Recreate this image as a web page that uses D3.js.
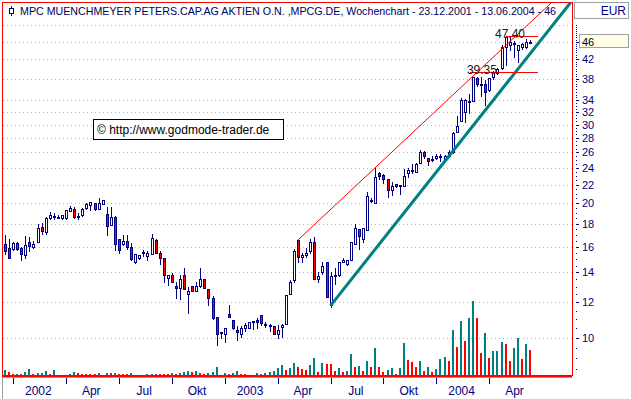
<!DOCTYPE html>
<html>
<head>
<meta charset="utf-8">
<script src="https://cdn.jsdelivr.net/npm/d3@7"></script>
<style>
body { margin: 0; background: #fff; }
svg { display: block; font-family: "Liberation Sans", Arial, sans-serif; }
</style>
</head>
<body>
<svg id="chart" width="631" height="399"></svg>
<script>
// weekly candles, 23.12.2001 - 13.06.2004 (index = week number)
var opens = [16.2,15.9,15.8,16.3,15.9,15.3,16.4,16.0,16.4,17.7, 17.2,18.5,18.6,18.55,18.5,18.5,19.25,19.4,18.65,18.8,
  19.5,19.8,20.0,19.45,19.95,18.9,17.9,18.6,16.6,16.2, 16.5,16.0,14.8,15.05,15.45,15.2,15.4,16.55,15.5,15.1,
  13.6,13.85,13.05,12.9,13.8,12.5,13.05,12.75,13.05,13.55, 12.85,12.25,11.1,10.3,10.2,11.3,10.95,10.4,10.2,10.5,
  10.5,10.85,10.95,11.25,10.73,10.7,10.6,10.2,10.55,10.72, 12.55,13.45,16.55,15.15,15.3,15.65,16.35,13.5,14.0,14.8,
  11.85,13.8,13.85,14.75,14.6,14.9,16.2,17.55,16.65,17.4, 20.35,20.0,23.35,23.15,22.6,21.4,22.1,21.9,21.85,23.35,
  23.6,23.55,24.55,26.0,25.2,25.1,25.3,25.4,25.05,25.5, 26.1,28.9,30.55,32.05,33.7,33.85,38.1,37.0,37.0,35.85,
  38.25,39.05,40.1,44.8,45.3,45.4,44.05,44.85,44.85,45.9];
var highs = [17.0,16.6,16.4,16.35,16.0,16.9,16.8,16.5,18.0,18.1, 18.6,19.1,19.0,18.8,18.85,19.3,19.7,19.6,19.0,19.5,
  20.0,20.1,20.05,20.5,20.3,19.6,19.6,18.7,16.6,17.0, 17.0,16.3,15.4,15.35,15.7,15.6,17.1,16.6,15.6,15.1,
  13.8,13.95,13.35,13.85,14.3,13.0,13.05,13.3,14.3,13.55, 12.85,12.4,11.1,10.3,10.5,11.84,10.95,10.6,10.6,10.8,
  10.85,10.9,11.05,11.25,10.87,10.75,10.6,10.68,10.72,12.45, 13.45,15.8,16.55,15.45,15.9,16.6,16.8,14.0,14.8,14.8,
  14.05,14.3,14.8,15.1,14.95,16.35,17.95,17.55,17.6,21.2, 20.5,24.05,23.45,23.25,22.6,22.35,22.1,21.95,23.9,23.95,
  24.5,24.6,26.3,26.2,25.3,25.5,25.8,25.8,25.65,26.25, 28.8,31.3,34.35,34.2,35.1,38.3,38.3,38.4,37.75,38.1,
  39.6,40.2,45.2,47.4,47.4,46.2,45.2,45.6,46.6,46.5];
var lows = [15.4,15.1,15.7,15.75,14.9,15.1,15.6,15.9,16.4,17.1, 17.1,18.4,18.4,18.5,18.4,18.4,19.2,18.5,18.4,18.7,
  19.45,19.3,19.35,19.45,19.95,17.0,17.9,15.7,15.5,16.1, 15.8,14.9,14.7,15.0,15.2,14.9,15.4,15.45,14.6,13.3,
  13.1,13.3,12.3,12.2,12.85,11.35,12.7,12.7,13.0,12.9, 11.85,11.0,9.63,10.0,9.8,11.1,10.45,9.9,10.05,10.35,
  10.5,10.45,10.5,10.68,10.58,10.35,10.2,9.96,10.05,10.72, 12.5,13.3,14.8,14.75,15.15,15.45,13.5,13.35,13.9,12.35,
  11.7,13.2,13.75,14.75,14.55,14.9,16.2,15.8,16.35,17.4, 20.1,20.0,22.7,22.2,20.6,20.85,21.7,20.95,21.85,22.9,
  23.35,23.55,24.55,25.3,24.3,24.8,25.1,24.9,25.0,25.4, 25.9,28.8,30.55,30.45,31.8,33.85,36.6,34.8,33.2,35.7,
  37.9,38.9,39.95,40.8,44.05,42.5,41.4,44.2,44.5,45.6];
var closes = [15.6,15.1,16.3,15.8,15.4,16.1,16.05,16.2,17.6,17.3, 18.5,18.8,18.75,18.6,18.8,19.3,19.55,18.6,18.75,19.4,
  19.9,20.1,19.4,20.0,20.3,17.8,18.6,16.2,15.7,16.5, 15.95,15.0,15.4,15.3,15.55,15.45,16.7,15.5,15.05,13.8,
  13.8,13.3,12.9,13.55,12.85,12.7,12.7,13.05,13.55,12.9, 12.25,11.05,10.2,10.28,10.5,11.1,10.5,10.28,10.5,10.65,
  10.85,10.9,10.85,10.8,10.7,10.6,10.2,10.4,10.65,12.45, 13.3,15.6,15.15,15.3,15.5,16.35,13.55,13.75,14.45,12.35,
  13.75,13.85,14.75,14.95,14.9,16.35,17.6,16.85,17.6,20.8, 20.25,22.95,23.0,22.7,21.4,21.85,21.85,21.95,23.0,23.75,
  23.75,24.5,26.0,25.5,24.8,25.15,25.5,25.45,25.55,26.05, 28.7,29.8,34.05,34.05,33.85,38.3,36.9,36.8,35.5,38.1,
  39.1,39.9,44.8,47.2,45.85,45.7,45.2,45.35,45.85,46.0];
// volume (relative units) and whether its bar is drawn as an up week
var volume = [5,3,1,1,1,3,6,1,2,2,4,1,5,0,0,0,1,3,2,1,1,1,1,2,0,2,2,2,1,1,1,2,0,0,0,
  1,1,1,1,1,1,2,1,2,3,4,3,4,2,1,2,3,8,0,2,1,2,4,1,1,0,0,2,1,2,3,4,7,
  10,5,7,12,8,6,5,10,17,3, 12,11,11,4,7,3,4,21,8,9, 4,14,8,27,8,3,5,7,1,7,
  32,15,13,8,14,4,8,3,6,16, 18,14,45,28,54,34,57,74,57,22, 42,17,24,24,33,31,14,27,37,16, 31,25];
var volUp = [1,0,0,1,0,1,1,0,1,1,1,0,1, 1,1,1, 1,1,0,0,0,0,0,1,1, 1,0,1,0,0,0,1, 1,1,1,
  1,1,0,0,0,0,1,0,1,1,1,0,1,0,0,1,1,1, 1,1,0,1,1,0,0, 1,1,1,0,1,1,1,1,
  1,0,1,1,0,0,0,1,1,0, 1,0,0,0,1,0,1,1,0,1, 0,1,0,1,0,0,1,1,0,1,
  1,0,0,0,1,0,1,0,1,1, 1,0,1,0,1,0,1,1,0,0, 1,0,1,1,1,0,0,1,1,0, 1,0];

// axis
var priceTicks = [10,12,14,16,18,20,22,24,26,28,30,32,34,38,42,46];
var gridPrices = [10,12,14,16,18,20,22,24,26,28,30,32,34,38,42,46,50];
var quarterWeeks = [2,15,28,41,54,67,80,93,106,119];
var quarterLabels = ["2002","Apr","Jul","Okt","2003","Apr","Jul","Okt","2004","Apr"];
var lastPrice = 46;

// trend lines [week, price] and horizontal marks
var upperTrend = [[72,16.55],[129,50.7]];
var lowerTrend = [[80,11.8],[129,43.2]];
var marks = [{price: 47.40, label: "47.40", from: 123, labelAt: 120.4, to: 131},
             {price: 39.35, label: "39.35", from: 114.3, labelAt: 113.5, to: 131}];

var title = "MPC MUENCHMEYER PETERS.CAP.AG AKTIEN O.N. ,MPCG.DE, Wochenchart - 23.12.2001 - 13.06.2004 - 46";
var copyright = "\u00A9 http://www.godmode-trader.de";

var navy = "#000080", red = "#ff0000", teal = "#008080";

var svg = d3.select("#chart");
var plot = {left: 2.5, top: 2.5, right: 572.5, bottom: 375.5};

var x = d3.scaleLinear().domain([0, 129]).range([5, 530]);
var y = d3.scaleLog().domain([10, 46]).range([337.7, 41.6]);
var yVol = d3.scaleLinear().domain([0, 74]).range([375, 301]);

var candles = opens.map(function(o, i) {
    return {i: i, o: o, h: highs[i], l: lows[i], c: closes[i], v: volume[i], up: volUp[i]};
});

svg.append("defs").append("clipPath").attr("id", "plotclip")
    .append("rect")
    .attr("x", plot.left).attr("y", plot.top)
    .attr("width", plot.right - plot.left).attr("height", plot.bottom - plot.top);

//gridlines
svg.append("g").selectAll("line")
    .data(gridPrices)
    .enter().append("line")
    .attr("x1", 3).attr("x2", 572)
    .attr("y1", function(d) { return Math.round(y(d)) + 0.5; })
    .attr("y2", function(d) { return Math.round(y(d)) + 0.5; })
    .attr("stroke", "#b8b8b8")
    .attr("stroke-dasharray", "1,3");

//volume
svg.append("g").attr("shape-rendering", "crispEdges")
    .selectAll("rect")
    .data(candles.filter(function(d) { return d.v > 0; }))
    .enter().append("rect")
    .attr("x", function(d) { return Math.round(x(d.i)) - 1; })
    .attr("width", 2)
    .attr("y", function(d) { return Math.round(yVol(d.v)); })
    .attr("height", function(d) { return 375 - Math.round(yVol(d.v)); })
    .attr("fill", function(d) { return d.up ? teal : red; });

//candles
var cg = svg.append("g").attr("shape-rendering", "crispEdges");
cg.selectAll("line")
    .data(candles)
    .enter().append("line")
    .attr("x1", function(d) { return Math.round(x(d.i)) + 0.5; })
    .attr("x2", function(d) { return Math.round(x(d.i)) + 0.5; })
    .attr("y1", function(d) { return Math.round(y(d.h)); })
    .attr("y2", function(d) { return Math.round(y(d.l)) + 1; })
    .attr("stroke", navy);
cg.selectAll("rect")
    .data(candles)
    .enter().append("rect")
    .attr("x", function(d) { return Math.round(x(d.i)) - 0.5; })
    .attr("width", 2)
    .attr("y", function(d) { return Math.round(y(Math.max(d.o, d.c))) + 0.5; })
    .attr("height", function(d) {
        return Math.max(1, Math.round(y(Math.min(d.o, d.c))) - Math.round(y(Math.max(d.o, d.c))));
    })
    .attr("fill", function(d) { return d.c >= d.o ? "#fff" : red; })
    .attr("stroke", navy);

//trend lines, extended to the top of the plot
function extend(pts) {
    var x0 = x(pts[0][0]), y0 = y(pts[0][1]), x1 = x(pts[1][0]), y1 = y(pts[1][1]);
    var k = (y1 - y0) / (x1 - x0);
    var xt = x0 + (plot.top - y0) / k;
    return [x0, y0, xt, plot.top];
}
var tg = svg.append("g").attr("clip-path", "url(#plotclip)");
[[upperTrend, red, 1], [lowerTrend, teal, 3]].forEach(function(t) {
    var p = extend(t[0]);
    tg.append("line")
        .attr("x1", p[0]).attr("y1", p[1]).attr("x2", p[2]).attr("y2", p[3])
        .attr("stroke", t[1]).attr("stroke-width", t[2]);
});

//horizontal marks
marks.forEach(function(m) {
    var yy = Math.round(y(m.price)) + 0.5;
    svg.append("line")
        .attr("x1", x(m.from)).attr("x2", x(m.to))
        .attr("y1", yy).attr("y2", yy)
        .attr("stroke", red).attr("shape-rendering", "crispEdges");
    svg.append("text")
        .attr("x", x(m.labelAt)).attr("y", yy + 1)
        .attr("font-size", 12).attr("fill", "#202020")
        .text(m.label);
});

//copyright box
svg.append("rect")
    .attr("x", 93.5).attr("y", 119.5).attr("width", 190).attr("height", 20)
    .attr("fill", "#fff").attr("stroke", "#000");
svg.append("text")
    .attr("x", 97).attr("y", 134)
    .attr("font-size", 12).attr("fill", "#000")
    .text(copyright);

//plot border
svg.append("rect")
    .attr("x", plot.left).attr("y", plot.top)
    .attr("width", plot.right - plot.left).attr("height", plot.bottom - plot.top)
    .attr("fill", "none").attr("stroke", red);

//title + icon
var icon = svg.append("g").attr("stroke", navy).attr("shape-rendering", "crispEdges");
icon.append("line").attr("x1", 11.5).attr("x2", 11.5).attr("y1", 6).attr("y2", 16);
icon.append("rect").attr("x", 9.5).attr("y", 8.5).attr("width", 4).attr("height", 5).attr("fill", "#fff");
svg.append("text")
    .attr("x", 20).attr("y", 15)
    .attr("font-size", 11.5).attr("fill", "#000060")
    .attr("textLength", 536).attr("lengthAdjust", "spacingAndGlyphs")
    .text(title);

//right axis
var ax = svg.append("g").attr("shape-rendering", "crispEdges");
ax.selectAll("line.minor")
    .data(d3.range(8.5, 50.01, 0.5))
    .enter().append("line")
    .attr("class", "minor")
    .attr("x1", 576).attr("x2", 577)
    .attr("y1", function(d) { return Math.round(y(d)) + 0.5; })
    .attr("y2", function(d) { return Math.round(y(d)) + 0.5; })
    .attr("stroke", navy);

ax.append("rect")
    .attr("x", 579.5).attr("y", Math.round(y(lastPrice)) - 7.5)
    .attr("width", 49).attr("height", 13)
    .attr("fill", "#ffffe6").attr("stroke", "#a0a0a0");

ax.selectAll("line.major")
    .data(priceTicks)
    .enter().append("line")
    .attr("class", "major")
    .attr("x1", 576).attr("x2", 579)
    .attr("y1", function(d) { return Math.round(y(d)) + 0.5; })
    .attr("y2", function(d) { return Math.round(y(d)) + 0.5; })
    .attr("stroke", navy);
ax.selectAll("text")
    .data(priceTicks)
    .enter().append("text")
    .attr("x", 582)
    .attr("y", function(d) { return y(d) + 4; })
    .attr("font-size", 11)
    .attr("fill", function(d) { return d === lastPrice ? "#000" : navy; })
    .text(function(d) { return d; });

svg.append("rect")
    .attr("x", 574.5).attr("y", 2.5).attr("width", 54).attr("height", 16)
    .attr("fill", "#fff").attr("stroke", "#a0a0a0");
svg.append("text")
    .attr("x", 626).attr("y", 15).attr("text-anchor", "end")
    .attr("font-size", 12).attr("fill", navy)
    .text("EUR");

//bottom axis
var bx = svg.append("g").attr("shape-rendering", "crispEdges");
bx.append("line").attr("x1", 3).attr("x2", 572).attr("y1", 377.5).attr("y2", 377.5).attr("stroke", "#a0a0a0");
bx.append("line").attr("x1", 2.5).attr("x2", 2.5).attr("y1", 377).attr("y2", 399).attr("stroke", "#a0a0a0");
bx.append("line").attr("x1", 2).attr("x2", 572).attr("y1", 376).attr("y2", 376).attr("stroke", red);
bx.selectAll("line.q")
    .data(quarterWeeks)
    .enter().append("line")
    .attr("class", "q")
    .attr("x1", function(d) { return Math.round(x(d)) + 0.5; })
    .attr("x2", function(d) { return Math.round(x(d)) + 0.5; })
    .attr("y1", 378).attr("y2", 384)
    .attr("stroke", navy);
bx.selectAll("text")
    .data(quarterWeeks)
    .enter().append("text")
    .attr("x", function(d) { return x(d + 6.2); })
    .attr("y", 395)
    .attr("text-anchor", "middle")
    .attr("font-size", 12)
    .attr("fill", navy)
    .text(function(d, i) { return quarterLabels[i]; });
</script>
</body>
</html>
